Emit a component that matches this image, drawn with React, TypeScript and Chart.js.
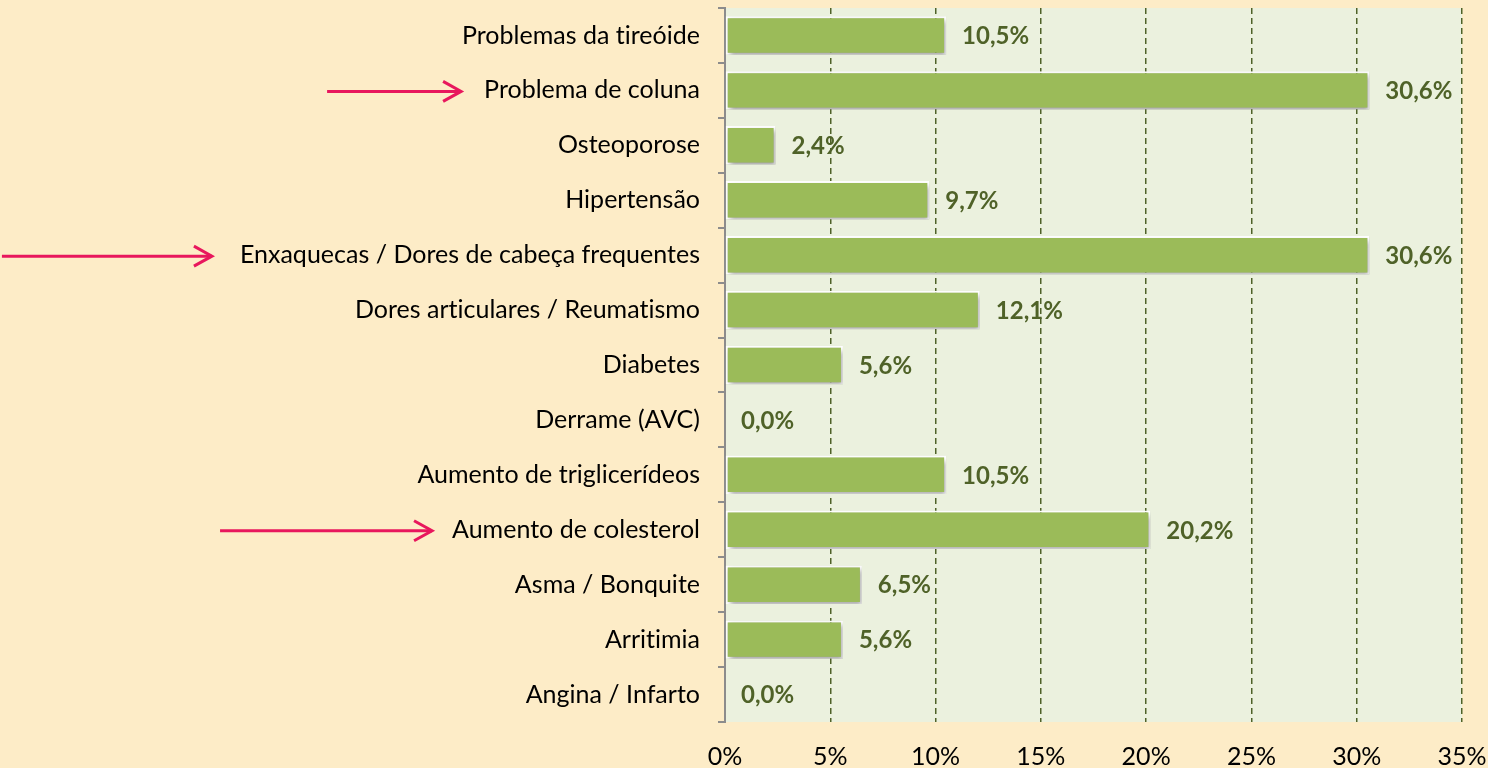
import React, { useEffect, useRef } from "react";
import { Chart, registerables } from "chart.js";

Chart.register(...registerables);

const categories = [
  "Problemas da tireóide",
  "Problema de coluna",
  "Osteoporose",
  "Hipertensão",
  "Enxaquecas / Dores de cabeça frequentes",
  "Dores articulares / Reumatismo",
  "Diabetes",
  "Derrame (AVC)",
  "Aumento de triglicerídeos",
  "Aumento de colesterol",
  "Asma / Bonquite",
  "Arritimia",
  "Angina / Infarto",
];
const values = [10.5, 30.6, 2.4, 9.7, 30.6, 12.1, 5.6, 0.0, 10.5, 20.2, 6.5, 5.6, 0.0];
const highlighted = ["Problema de coluna", "Enxaquecas / Dores de cabeça frequentes", "Aumento de colesterol"];
const arrowLengths = [134, 210, 212];
const arrowGaps = [23, 28, 20];
const xTicks = [0, 5, 10, 15, 20, 25, 30, 35];

const FONT = "Lato, 'Open Sans', sans-serif";
const FONT_SIZE = 25;
const BG = "#FDECC7";
const PLOT_BG = "#EBF1DE";
const BAR = "#9BBB59";
const LABEL = "#4F6228";
const ARROW = "#E8175D";

export default function App() {
  const ref = useRef<HTMLCanvasElement | null>(null);

  useEffect(() => {
    document.body.style.margin = "0";
    document.body.style.background = BG;
    const canvas = ref.current!;

    const bgPlugin = {
      id: "bgPlugin",
      beforeDraw(chart: any) {
        const { ctx, chartArea: a } = chart;
        // a tiny letter spacing turns off font ligatures (e.g. "ti")
        try {
          (ctx as any).letterSpacing = "0.01px";
        } catch (e) {}
        ctx.save();
        ctx.fillStyle = BG;
        ctx.fillRect(0, 0, chart.width, chart.height);
        ctx.fillStyle = PLOT_BG;
        ctx.fillRect(a.left, a.top, a.right - a.left, a.bottom - a.top);
        ctx.restore();
      },
    };

    const shadowPlugin = {
      id: "shadowPlugin",
      beforeDatasetsDraw(chart: any) {
        const ctx = chart.ctx;
        ctx.save();
        ctx.shadowColor = "rgba(0,0,0,0.35)";
        ctx.shadowBlur = 5;
        ctx.shadowOffsetX = 2;
        ctx.shadowOffsetY = 3;
      },
      afterDatasetsDraw(chart: any) {
        chart.ctx.restore();
      },
    };

    const labelPlugin = {
      id: "labelPlugin",
      afterDatasetsDraw(chart: any) {
        const { ctx } = chart;
        const meta = chart.getDatasetMeta(0);
        ctx.save();
        ctx.fillStyle = LABEL;
        ctx.font = `bold 24px ${FONT}`;
        ctx.textAlign = "left";
        ctx.textBaseline = "middle";
        meta.data.forEach((bar: any, i: number) => {
          const txt = values[i].toFixed(1).replace(".", ",") + "%";
          ctx.fillText(txt, bar.x + 16, bar.y + 1);
        });
        ctx.restore();
      },
    };

    const arrowPlugin = {
      id: "arrowPlugin",
      afterDraw(chart: any) {
        const { ctx } = chart;
        const y = chart.scales.y;
        ctx.save();
        ctx.font = `${FONT_SIZE}px ${FONT}`;
        ctx.strokeStyle = ARROW;
        ctx.lineWidth = 3;
        ctx.lineCap = "butt";
        highlighted.forEach((name, k) => {
          const idx = categories.indexOf(name);
          const py = y.getPixelForValue(idx) + 1;
          const textW = ctx.measureText(name).width;
          const labelRight = y.right - 25;
          const end = labelRight - textW - arrowGaps[k];
          const start = end - arrowLengths[k];
          ctx.beginPath();
          ctx.moveTo(start, py);
          ctx.lineTo(end, py);
          ctx.stroke();
          ctx.beginPath();
          ctx.moveTo(end - 18, py - 10);
          ctx.lineTo(end, py);
          ctx.lineTo(end - 18, py + 10);
          ctx.stroke();
        });
        ctx.restore();
      },
    };

    const chart = new Chart(canvas, {
      type: "bar",
      data: {
        labels: categories,
        datasets: [
          {
            data: values,
            backgroundColor: BAR,
            borderColor: "#FFFFFF",
            borderWidth: 2,
            borderSkipped: false,
            categoryPercentage: 1,
            barPercentage: 0.7,
          },
        ],
      },
      options: {
        indexAxis: "y",
        animation: false,
        responsive: false,
        maintainAspectRatio: false,
        layout: { padding: { top: 8, right: 26, left: 0, bottom: 0 } },
        plugins: {
          legend: { display: false },
          tooltip: { enabled: false },
        },
        scales: {
          x: {
            type: "linear",
            min: 0,
            max: 35,
            afterBuildTicks(scale: any) {
              scale.ticks = xTicks.map((v) => ({ value: v }));
            },
            afterFit(scale: any) {
              scale.height = 46;
              scale.paddingLeft = 0;
              scale.paddingRight = 0;
            },
            ticks: {
              callback: (v: any) => v + "%",
              color: "#000",
              font: { family: FONT, size: FONT_SIZE },
              padding: 20,
              maxRotation: 0,
            },
            grid: {
              color: (c: any) => (c.tick && c.tick.value === 0 ? "rgba(0,0,0,0)" : LABEL),
              lineWidth: 1.5,
              drawTicks: false,
              tickLength: 0,
            },
            border: { display: false, dash: [6, 4] },
          },
          y: {
            type: "category",
            afterFit(scale: any) {
              scale.width = 725;
              scale.paddingTop = 0;
              scale.paddingBottom = 0;
            },
            ticks: {
              color: "#000",
              font: { family: FONT, size: FONT_SIZE },
              padding: 18,
            },
            grid: {
              drawOnChartArea: false,
              drawTicks: true,
              tickLength: 7,
              color: "#8C8C8C",
              lineWidth: 2,
              offset: true,
            },
            border: { display: true, color: "#8C8C8C", width: 2 },
          },
        },
      },
      plugins: [bgPlugin, shadowPlugin, labelPlugin, arrowPlugin],
    });

    return () => chart.destroy();
  }, []);

  return (
    <div style={{ width: 1488, height: 768, background: BG }}>
      <canvas ref={ref} width={1488} height={768} style={{ display: "block" }} />
    </div>
  );
}
